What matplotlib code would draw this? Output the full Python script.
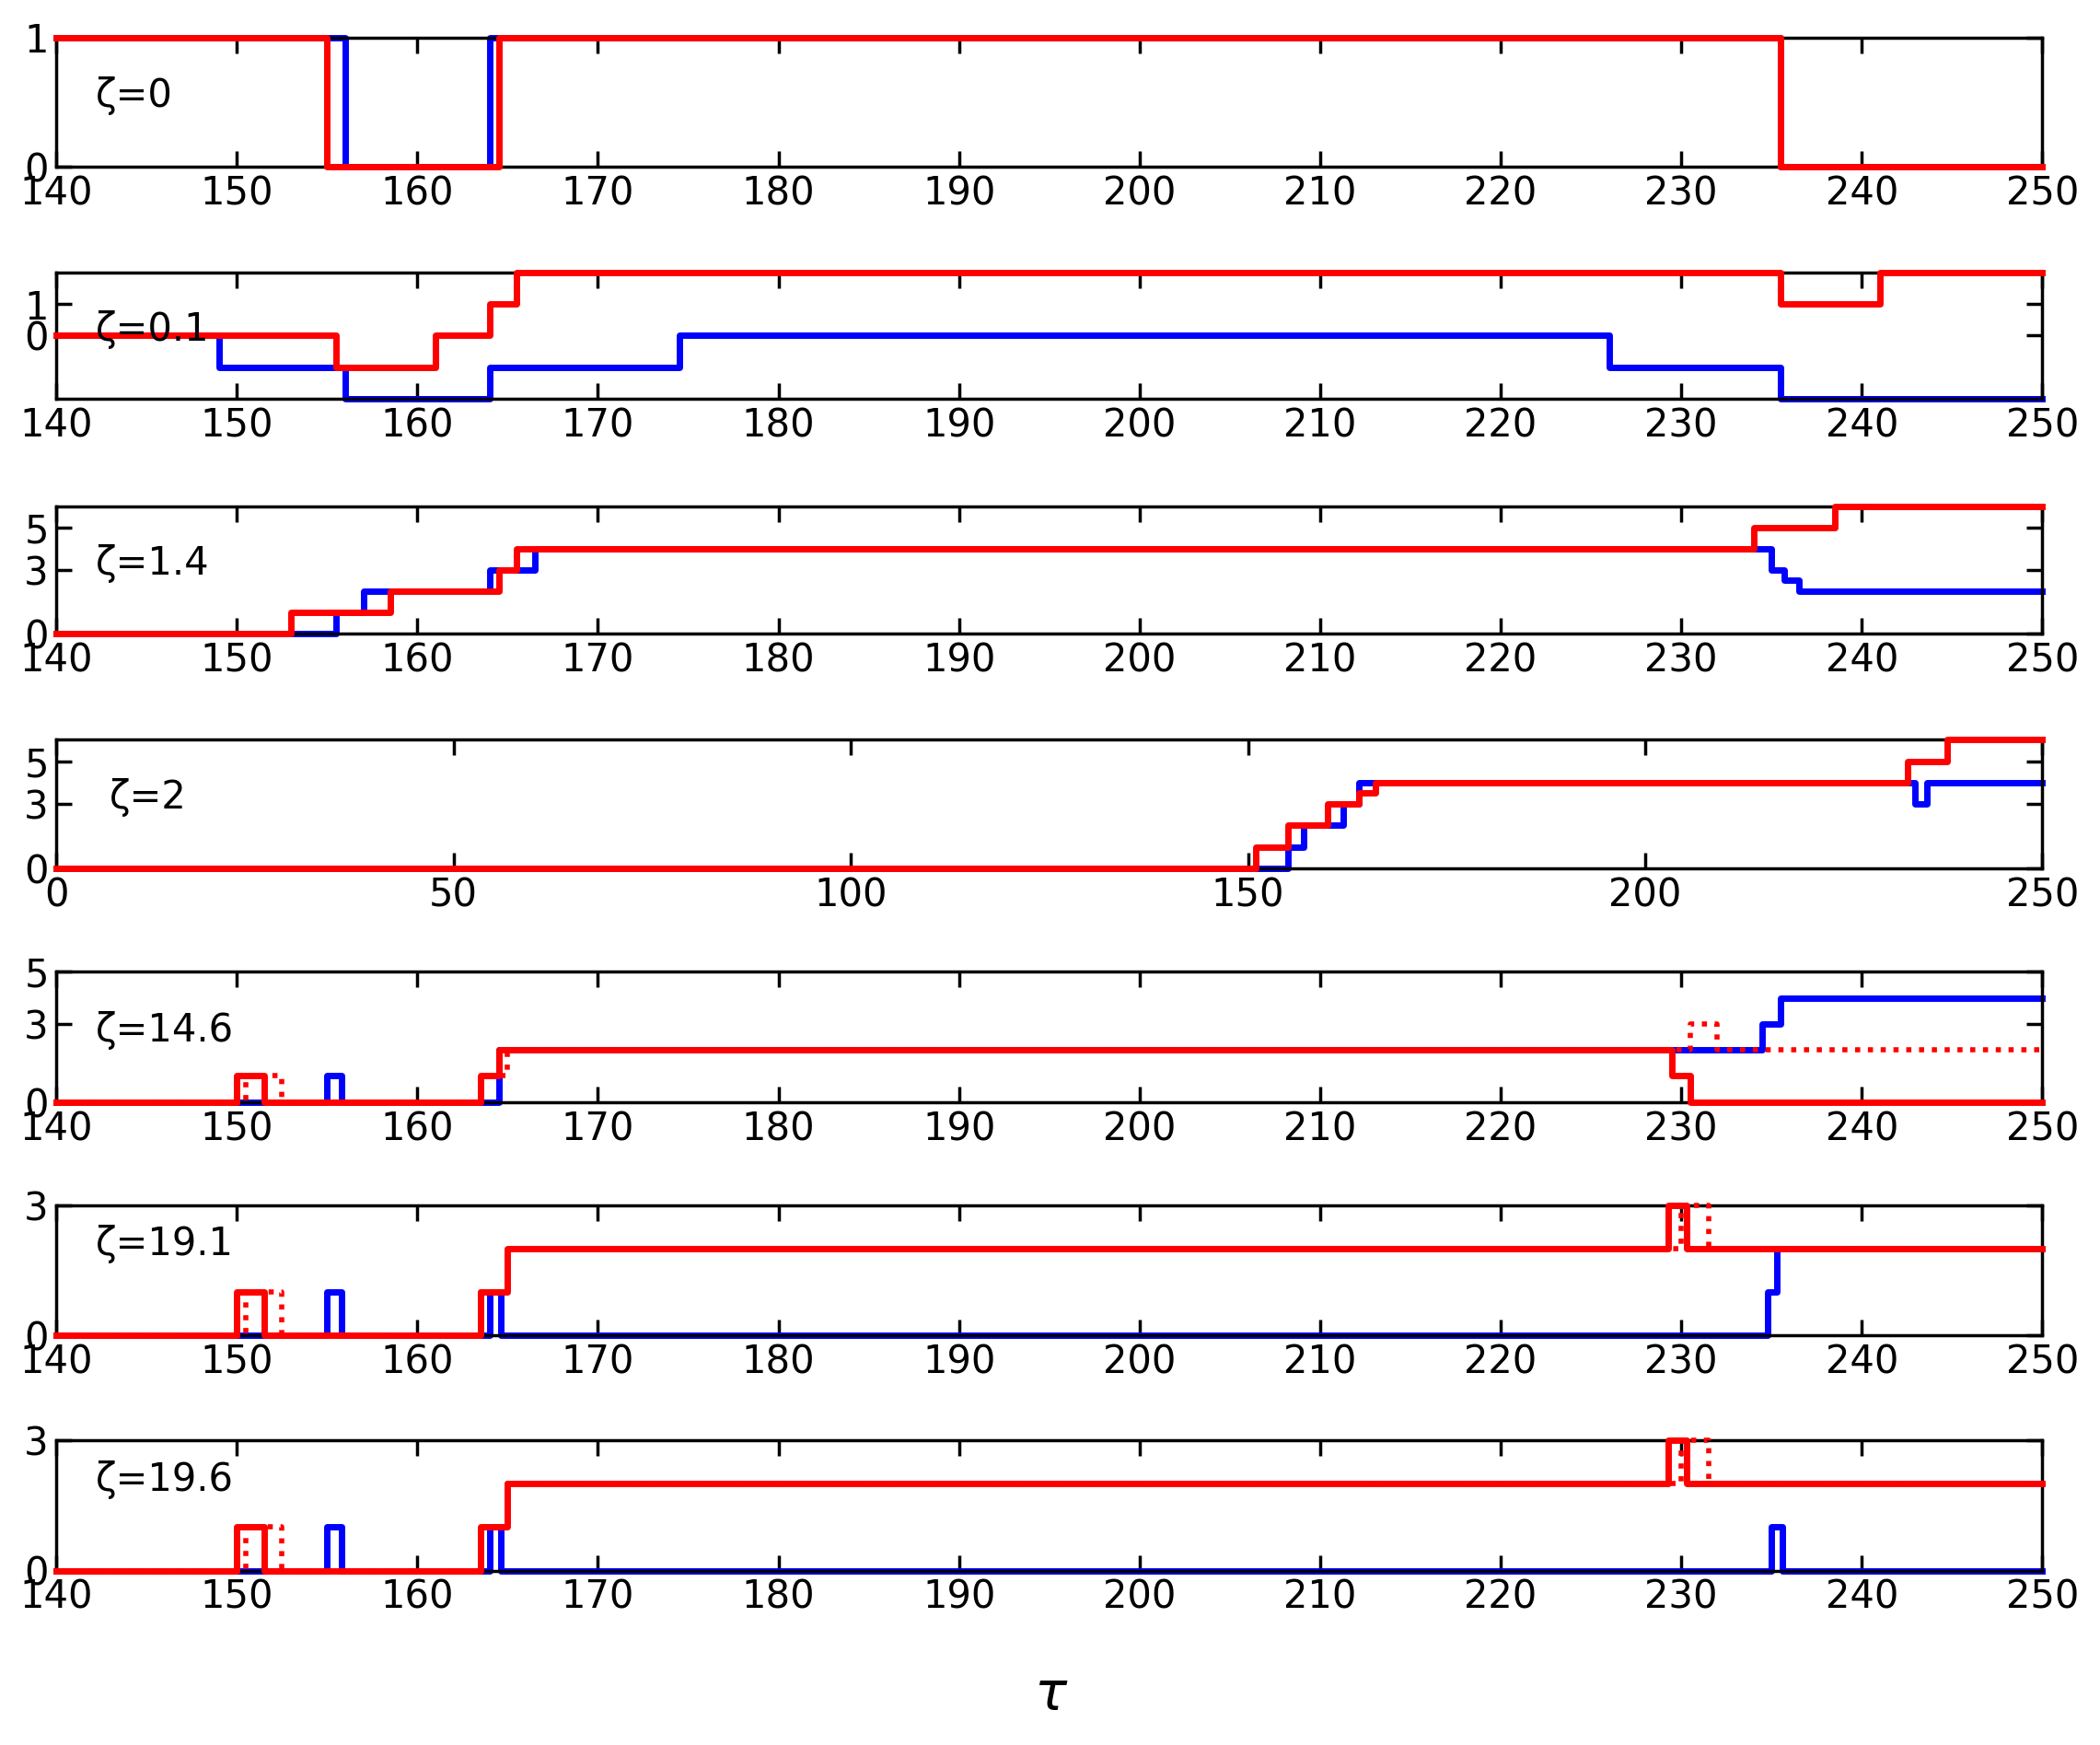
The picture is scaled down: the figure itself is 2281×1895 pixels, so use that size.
import matplotlib
matplotlib.use("Agg")
import matplotlib.pyplot as plt

labels = ["ζ=0", "ζ=0.1", "ζ=1.4", "ζ=2", "ζ=14.6", "ζ=19.1", "ζ=19.6"]
xlims = [(140, 250)] * 3 + [(0, 250)] + [(140, 250)] * 3
ylims = [(0, 1), (-2, 2), (0, 6), (0, 6), (0, 5), (0, 3), (0, 3)]
yticks = [[0, 1], [0, 1], [0, 3, 5], [0, 3, 5], [0, 3, 5], [0, 3], [0, 3]]

# step series: (x breakpoints, y values)
blue_x = [
    [140, 156, 164, 235.5, 250],
    [140, 149, 156, 164, 174.5, 226, 235.5, 250],
    [140, 155.5, 157, 164, 166.5, 235, 235.7, 236.5, 250],
    [0, 155, 157, 162, 164, 234, 235.5, 250],
    [140, 155, 155.8, 164.5, 234.5, 235.5, 250],
    [140, 155, 155.8, 164, 164.6, 234.8, 235.3, 250],
    [140, 155, 155.8, 164, 164.6, 235, 235.6, 250],
]
blue_y = [
    [1, 0, 1, 0, 0],
    [0, -1, -2, -1, 0, -1, -2, -2],
    [0, 1, 2, 3, 4, 3, 2.5, 2, 2],
    [0, 1, 2, 3, 4, 3, 4, 4],
    [0, 1, 0, 2, 3, 4, 4],
    [0, 1, 0, 1, 0, 1, 2, 2],
    [0, 1, 0, 1, 0, 1, 0, 0],
]
red_x = [
    [140, 155, 164.5, 235.5, 250],
    [140, 155.5, 161, 164, 165.5, 235.5, 241, 250],
    [140, 153, 158.5, 164.5, 165.5, 234, 238.5, 250],
    [0, 151, 155, 160, 164, 166, 233, 238, 250],
    [140, 150, 151.5, 163.5, 164.5, 229.5, 230.5, 250],
    [140, 150, 151.5, 163.5, 165, 229.3, 230.3, 250],
    [140, 150, 151.5, 163.5, 165, 229.3, 230.3, 250],
]
red_y = [
    [1, 0, 1, 0, 0],
    [0, -1, 0, 1, 2, 1, 2, 2],
    [0, 1, 2, 3, 4, 5, 6, 6],
    [0, 1, 2, 3, 3.5, 4, 5, 6, 6],
    [0, 1, 0, 1, 2, 1, 0, 0],
    [0, 1, 0, 1, 2, 3, 2, 2],
    [0, 1, 0, 1, 2, 3, 2, 2],
]
reddot_x = [
    None, None, None, None,
    [140, 150.5, 152.5, 163.5, 165, 230.5, 232, 250],
    [140, 150.5, 152.5, 163.5, 165, 230, 231.5, 250],
    [140, 150.5, 152.5, 163.5, 165, 230, 231.5, 250],
]
reddot_y = [
    None, None, None, None,
    [0, 1, 0, 1, 2, 3, 2, 2],
    [0, 1, 0, 1, 2, 3, 2, 2],
    [0, 1, 0, 1, 2, 3, 2, 2],
]

fig = plt.figure(figsize=(22.81, 18.95), dpi=100)
tops = [28, 203, 377, 551, 724, 898, 1073]
bots = [124, 297, 472, 647, 821, 995, 1170]
H = 1300.0
left, right = 42 / 1568, 1525 / 1568
for i in range(7):
    ax = fig.add_axes([left, 1 - bots[i] / H, right - left, (bots[i] - tops[i]) / H])
    ax.step(blue_x[i], blue_y[i], where="post", color="#0000ff", lw=5, zorder=2,
            clip_on=False)
    if reddot_x[i] is not None:
        ax.step(reddot_x[i], reddot_y[i], where="post", color="#ff0000", lw=4,
                ls=(0, (1, 1.5)), zorder=3, clip_on=False)
    ax.step(red_x[i], red_y[i], where="post", color="#ff0000", lw=5, zorder=4,
            clip_on=False)
    ax.set_xlim(*xlims[i])
    ax.set_ylim(*ylims[i])
    ax.set_yticks(yticks[i])
    if i == 3:
        ax.set_xticks(range(0, 251, 50))
    else:
        ax.set_xticks(range(140, 251, 10))
    ax.tick_params(direction="in", top=True, right=True, labelsize=30, length=12,
                   width=2.5, pad=6)
    for s in ax.spines.values():
        s.set_linewidth(2.5)
    ax.text(0.02 if i != 3 else 0.027, 0.55 if i < 5 else 0.7, labels[i],
            transform=ax.transAxes, fontsize=30, va="center", ha="left", zorder=5)

fig.text(0.5, 0.02, "τ", fontsize=42, style="italic", ha="center")
fig.savefig("out.png", dpi=100)
